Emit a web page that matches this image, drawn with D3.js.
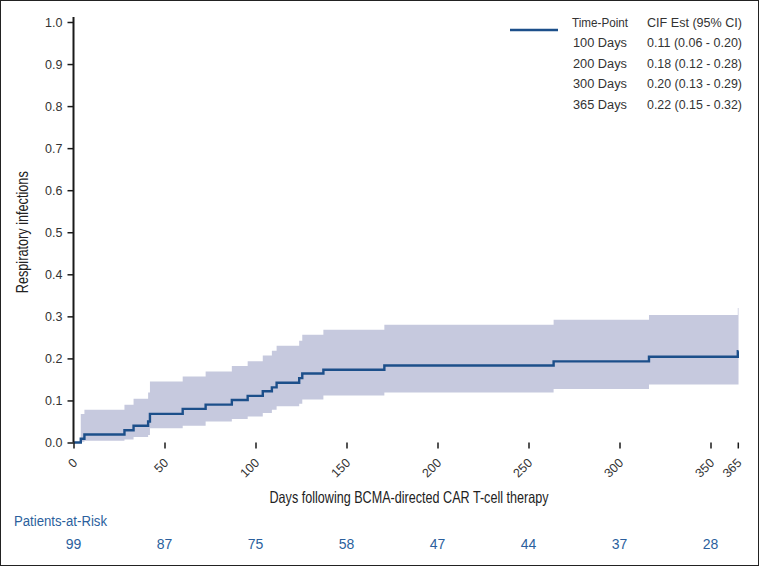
<!DOCTYPE html>
<html>
<head>
<meta charset="utf-8">
<script src="https://cdn.jsdelivr.net/npm/d3@7"></script>
<style>
  html, body { margin: 0; padding: 0; background: #fff; }
  svg { display: block; }
</style>
</head>
<body>
<svg id="chart" width="759" height="566"></svg>
<script>
// ---- data ----
const days  = [0, 4, 6, 28, 33, 41, 42, 60, 72.6, 87, 95.7, 104, 109, 111.6, 124, 125.7, 137.3, 170.8, 263.8, 316.2, 365, 365.4];
const cif   = [0, 0.009, 0.019, 0.029, 0.04, 0.05, 0.068, 0.08, 0.09, 0.101, 0.111, 0.122, 0.131, 0.142, 0.153, 0.164, 0.173, 0.183, 0.193, 0.204, 0.217, 0.217];
const upper = [0, 0.068, 0.078, 0.09, 0.104, 0.119, 0.145, 0.157, 0.169, 0.182, 0.193, 0.207, 0.218, 0.230, 0.242, 0.256, 0.268, 0.280, 0.292, 0.303, 0.320, 0.320];
const lower = [0, 0.002, 0.004, 0.007, 0.013, 0.018, 0.034, 0.040, 0.050, 0.056, 0.062, 0.070, 0.078, 0.086, 0.092, 0.102, 0.112, 0.119, 0.127, 0.138, 0.138, 0.138];

const xTicks = [0, 50, 100, 150, 200, 250, 300, 350, 365];
const yTicks = [0, 0.1, 0.2, 0.3, 0.4, 0.5, 0.6, 0.7, 0.8, 0.9, 1.0];
const riskDays = [0, 50, 100, 150, 200, 250, 300, 350];
const riskCounts = [99, 87, 75, 58, 47, 44, 37, 28];

const legendHeader = ["Time-Point", "CIF Est (95% CI)"];
const legendPoints = ["100 Days", "200 Days", "300 Days", "365 Days"];
const legendEst = ["0.11 (0.06 - 0.20)", "0.18 (0.12 - 0.28)", "0.20 (0.13 - 0.29)", "0.22 (0.15 - 0.32)"];

const yTitle = "Respiratory infections";
const xTitle = "Days following BCMA-directed CAR T-cell therapy";
const riskTitle = "Patients-at-Risk";

// ---- styles ----
const lineColor = "#1c4f8a";
const bandColor = "#c6c9de";
const riskColor = "#2b5f9d";
const textColor = "#333";
const baseFont = "'Liberation Sans', Arial, Helvetica, sans-serif";
const narrowFont = "'Liberation Sans Narrow', 'Arial Narrow', 'Liberation Sans', sans-serif";

const svg = d3.select("#chart");

// border
svg.append("rect").attr("x", 0.5).attr("y", 0.5).attr("width", 758).attr("height", 565)
  .attr("fill", "none").attr("stroke", "#222").attr("stroke-width", 1);

const x = d3.scaleLinear().domain([0, 365]).range([73.5, 737.8]);
const y = d3.scaleLinear().domain([0, 1]).range([442.5, 22]);

const pts = days.map((d, i) => ({ d, v: cif[i], u: upper[i], l: lower[i] }));

// CI band
svg.append("path")
  .datum(pts)
  .attr("fill", bandColor)
  .attr("d", d3.area().curve(d3.curveStepAfter)
    .x(p => x(p.d)).y0(p => y(p.l)).y1(p => y(p.u)));

// CIF line
svg.append("path")
  .datum(pts)
  .attr("fill", "none")
  .attr("stroke", lineColor)
  .attr("stroke-width", 2.4)
  .attr("d", d3.line().curve(d3.curveStepAfter).x(p => x(p.d)).y(p => y(p.v)));

// y axis
const yAxis = svg.append("g").attr("transform", `translate(${x(0)},0)`)
  .call(d3.axisLeft(y).tickValues(yTicks).tickFormat(d3.format(".1f")).tickSize(6).tickSizeOuter(0));
yAxis.select(".domain").attr("d", `M0,${y(0)}V${y(1) - 5}`).attr("stroke", "#1a1a1a").attr("stroke-width", 2);
yAxis.selectAll(".tick line").attr("stroke", "#1a1a1a").attr("stroke-width", 1.5);
yAxis.selectAll(".tick text").attr("font-family", baseFont).attr("font-size", 12.5)
  .attr("fill", textColor).attr("x", -11);

// x axis
const xAxis = svg.append("g").attr("transform", `translate(0,${y(0)})`)
  .call(d3.axisBottom(x).tickValues(xTicks).tickFormat(d3.format("d")).tickSize(6).tickSizeOuter(0));
xAxis.select(".domain").attr("d", `M${x(0) - 1}H${x(365) + 6}`).attr("stroke", "#1a1a1a").attr("stroke-width", 2);
xAxis.selectAll(".tick line").attr("stroke", "#1a1a1a").attr("stroke-width", 1.5);
xAxis.selectAll(".tick text")
  .attr("font-family", baseFont).attr("font-size", 12.5).attr("fill", textColor)
  .attr("text-anchor", "end").attr("y", 0).attr("dy", "0.35em")
  .attr("transform", "translate(1,18) rotate(-45)");

// axis titles
svg.append("text")
  .attr("transform", `translate(28,${(y(0) + y(1)) / 2}) rotate(-90)`)
  .attr("text-anchor", "middle")
  .attr("font-family", narrowFont).attr("font-size", 16.5).attr("fill", "#222")
  .attr("textLength", 122).attr("lengthAdjust", "spacingAndGlyphs")
  .text(yTitle);

svg.append("text")
  .attr("x", 409).attr("y", 503)
  .attr("text-anchor", "middle")
  .attr("font-family", narrowFont).attr("font-size", 16.5).attr("fill", "#222")
  .attr("textLength", 279).attr("lengthAdjust", "spacingAndGlyphs")
  .text(xTitle);

// patients at risk
svg.append("text")
  .attr("x", 14).attr("y", 526)
  .attr("font-family", narrowFont).attr("font-size", 14).attr("fill", riskColor)
  .attr("textLength", 93).attr("lengthAdjust", "spacingAndGlyphs")
  .text(riskTitle);

svg.append("g").selectAll("text").data(riskDays).join("text")
  .attr("x", d => x(d)).attr("y", 549)
  .attr("text-anchor", "middle")
  .attr("font-family", narrowFont).attr("font-size", 14).attr("fill", riskColor)
  .text((d, i) => riskCounts[i]);

// legend
const lg = svg.append("g").attr("font-family", baseFont).attr("font-size", 12).attr("fill", textColor);
lg.append("line").attr("x1", 510).attr("x2", 558).attr("y1", 30).attr("y2", 30)
  .attr("stroke", lineColor).attr("stroke-width", 2.4);
lg.append("text").attr("x", 600).attr("y", 23).attr("dy", "0.35em").attr("text-anchor", "middle")
  .attr("textLength", 56).attr("lengthAdjust", "spacingAndGlyphs").text(legendHeader[0]);
lg.append("text").attr("x", 647).attr("y", 23).attr("dy", "0.35em")
  .attr("textLength", 95).attr("lengthAdjust", "spacingAndGlyphs").text(legendHeader[1]);
lg.selectAll(".lp").data(legendPoints).join("text").attr("class", "lp")
  .attr("x", 600).attr("y", (d, i) => 43 + i * 20.6).attr("dy", "0.35em").attr("text-anchor", "middle")
  .attr("textLength", 54).attr("lengthAdjust", "spacingAndGlyphs").text(d => d);
lg.selectAll(".le").data(legendEst).join("text").attr("class", "le")
  .attr("x", 647).attr("y", (d, i) => 43 + i * 20.6).attr("dy", "0.35em")
  .attr("textLength", 95).attr("lengthAdjust", "spacingAndGlyphs").text(d => d);
</script>
</body>
</html>
